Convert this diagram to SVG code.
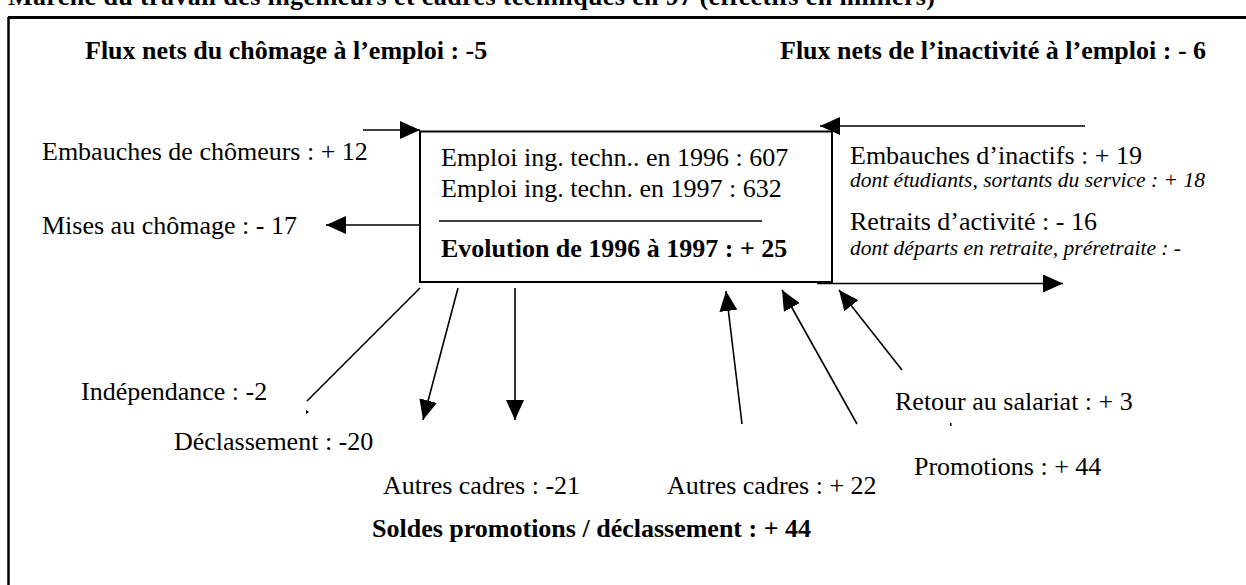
<svg xmlns="http://www.w3.org/2000/svg" width="1246" height="585" viewBox="0 0 1246 585">
<style>
.t{font-family:"Liberation Serif","Times New Roman",serif;font-size:26px;fill:#000}
.b{font-weight:bold}
.i{font-style:italic;font-size:21.5px}
.ln{stroke:#000;stroke-width:1.6;fill:none}
</style>
<defs>
<marker id="ah" viewBox="0 0 20 18" refX="20" refY="9" markerWidth="20" markerHeight="18" markerUnits="userSpaceOnUse" orient="auto">
<path d="M0,0 L20,9 L0,18 z" fill="#000"/>
</marker>
</defs>
<rect width="1246" height="585" fill="#fff"/>
<g id="title">
<text class="t b" x="8" y="5" textLength="927">Marché du travail des ingénieurs et cadres techniques en 97 (effectifs en milliers)</text>
</g>
<g id="frame">
<line x1="8" y1="17.5" x2="1246" y2="17.5" stroke="#000" stroke-width="3"/>
<line x1="8.5" y1="17" x2="8.5" y2="585" stroke="#000" stroke-width="2.5"/>
</g>
<g id="headers">
<text class="t b" x="85" y="59">Flux nets du chômage à l’emploi : -5</text>
<text class="t b" x="780" y="59">Flux nets de l’inactivité à l’emploi : - 6</text>
</g>
<g id="center-box">
<rect x="420" y="131.5" width="412" height="150.5" fill="#fff" stroke="#000" stroke-width="2"/>
<text class="t" x="441" y="166">Emploi ing. techn.. en 1996 : 607</text>
<text class="t" x="441" y="197">Emploi ing. techn. en 1997 : 632</text>
<line x1="439" y1="221" x2="762" y2="221" stroke="#000" stroke-width="1.6"/>
<text class="t b" x="441" y="257">Evolution de 1996 à 1997 : + 25</text>
</g>
<g id="left-labels">
<text class="t" x="42" y="160">Embauches de chômeurs : + 12</text>
<text class="t" x="42" y="234">Mises au chômage : - 17</text>
</g>
<g id="right-labels">
<text class="t" x="850" y="164">Embauches d’inactifs : + 19</text>
<text class="t i" x="850" y="187">dont étudiants, sortants du service : + 18</text>
<text class="t" x="850" y="230">Retraits d’activité : - 16</text>
<text class="t i" x="850" y="255">dont départs en retraite, préretraite : -</text>
</g>
<g id="bottom-labels">
<text class="t" x="81" y="400">Indépendance : -2</text>
<text class="t" x="174" y="450">Déclassement : -20</text>
<text class="t" x="383" y="494">Autres cadres : -21</text>
<text class="t" x="667" y="494">Autres cadres : + 22</text>
<text class="t" x="895" y="410">Retour au salariat : + 3</text>
<text class="t" x="914" y="475">Promotions : + 44</text>
<text class="t b" x="372" y="537">Soldes promotions / déclassement : + 44</text>
</g>
<g id="connectors">
<path class="ln" d="M363,130 L420,130" marker-end="url(#ah)"/>
<path class="ln" d="M420,225 L326,225" marker-end="url(#ah)"/>
<path class="ln" d="M1085,126 L820,126" marker-end="url(#ah)"/>
<path class="ln" d="M817,283.5 L1063,283.5" marker-end="url(#ah)"/>
<path class="ln" d="M420,288 L307,401"/>
<path d="M306,410 L309,412 L306,414 z" fill="#000"/>
<path class="ln" d="M458,288 L423,420" marker-end="url(#ah)"/>
<path class="ln" d="M515,288 L515,420" marker-end="url(#ah)"/>
<path class="ln" d="M742,424 L726,291" marker-end="url(#ah)"/>
<path class="ln" d="M857,424 L782,290" marker-end="url(#ah)"/>
<path class="ln" d="M902,370 L839,290" marker-end="url(#ah)"/>
<rect x="950" y="423" width="1.5" height="3" fill="#000"/>
</g>
</svg>
